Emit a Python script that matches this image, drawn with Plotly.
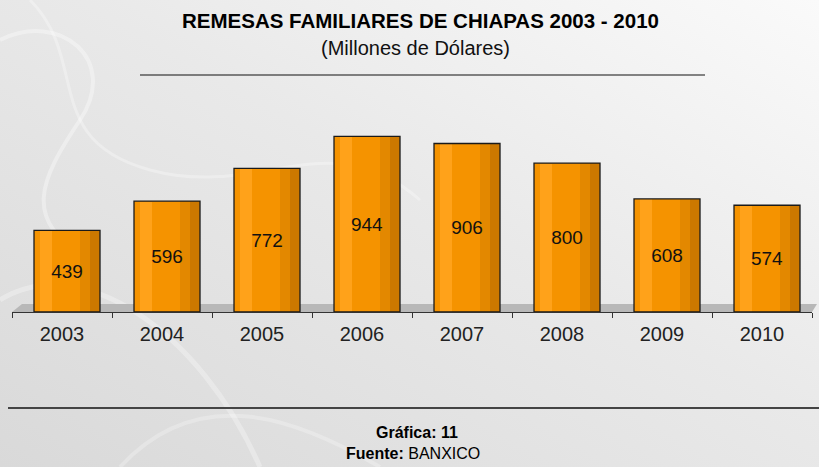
import plotly.graph_objects as go

years = ["2003", "2004", "2005", "2006", "2007", "2008", "2009", "2010"]
values = [439, 596, 772, 944, 906, 800, 608, 574]
labels = [str(v) for v in values]

W, H = 819, 467
L, R, T, B = 12, 7, 126, 155
pw, ph = W - L - R, H - T - B

def px(x):
    return (x - L) / pw

def py(y):
    return (H - B - y) / ph

bg_svg = (
    "data:image/svg+xml;utf8,"
    "<svg xmlns='http://www.w3.org/2000/svg' width='819' height='467'>"
    "<defs><linearGradient id='g' x1='0' y1='1' x2='1' y2='0'>"
    "<stop offset='0' stop-color='%23D9D9D9'/>"
    "<stop offset='0.55' stop-color='%23E9E9E9'/>"
    "<stop offset='1' stop-color='%23FAFAFA'/>"
    "</linearGradient></defs>"
    "<rect width='819' height='467' fill='url(%23g)'/>"
    "<path d='M0,40 C60,10 120,60 80,120 S20,220 90,260' stroke='white' stroke-opacity='0.35' stroke-width='4' fill='none'/>"
    "<path d='M30,0 C90,60 40,140 150,170 S330,120 420,200' stroke='white' stroke-opacity='0.3' stroke-width='3' fill='none'/>"
    "<path d='M0,300 C80,250 200,330 260,467' stroke='white' stroke-opacity='0.3' stroke-width='5' fill='none'/>"
    "<path d='M120,467 C200,380 300,420 380,467' stroke='white' stroke-opacity='0.25' stroke-width='4' fill='none'/>"
    "</svg>"
)

fig = go.Figure()

bw = 0.66
off = -0.28
# base fill
fig.add_trace(go.Bar(x=years, y=values, width=bw, offset=off,
                     marker=dict(color="#F59300", line=dict(width=0)),
                     hoverinfo="skip", showlegend=False))
# light left strip
fig.add_trace(go.Bar(x=years, y=values, width=0.12, offset=off + 0.06,
                     marker=dict(color="#FFA21A", line=dict(width=0)),
                     hoverinfo="skip", showlegend=False))
# darker right strips
fig.add_trace(go.Bar(x=years, y=values, width=0.2, offset=off + bw - 0.2,
                     marker=dict(color="#E38800", line=dict(width=0)),
                     hoverinfo="skip", showlegend=False))
fig.add_trace(go.Bar(x=years, y=values, width=0.1, offset=off + bw - 0.1,
                     marker=dict(color="#CC7800", line=dict(width=0)),
                     hoverinfo="skip", showlegend=False))
# outline + labels
fig.add_trace(go.Bar(x=years, y=values, width=bw, offset=off,
                     marker=dict(color="rgba(0,0,0,0)", line=dict(width=1.3, color="#1a1a1a")),
                     text=labels, textposition="inside", insidetextanchor="middle",
                     textfont=dict(size=19, color="#111111", family="Liberation Sans, Arial"),
                     hoverinfo="skip", showlegend=False))

fig.update_layout(
    barmode="overlay",
    width=W, height=H,
    margin=dict(l=L, r=R, t=T, b=B),
    paper_bgcolor="#E6E6E6",
    plot_bgcolor="rgba(0,0,0,0)",
    showlegend=False,
    images=[dict(source=bg_svg, xref="paper", yref="paper",
                 x=px(0), y=py(0), sizex=W / pw, sizey=H / ph,
                 xanchor="left", yanchor="top", sizing="stretch", layer="below")],
    xaxis=dict(type="category", showline=True, linecolor="#333333", linewidth=1,
               ticks="outside", tickson="boundaries", ticklen=5, tickcolor="#333333",
               showgrid=False, tickfont=dict(size=20, color="#222222", family="Liberation Sans, Arial"),
               ticklabelstandoff=4),
    yaxis=dict(range=[0, 1000], visible=False, showgrid=False),
    shapes=[
        # floor
        dict(type="path", xref="paper", yref="paper", layer="below",
             path=f"M {px(12)},{py(312)} L {px(22)},{py(304)} L {px(817)},{py(304)} L {px(812)},{py(312)} Z",
             fillcolor="#B8B8B8", line=dict(width=0)),
        # title underline
        dict(type="line", xref="paper", yref="paper",
             x0=px(140), x1=px(705), y0=py(75), y1=py(75), line=dict(color="#111111", width=1.2)),
        # bottom separator
        dict(type="line", xref="paper", yref="paper",
             x0=px(8), x1=px(819), y0=py(408), y1=py(408), line=dict(color="#444444", width=2)),
    ],
    annotations=[
        dict(text="<b>REMESAS FAMILIARES DE CHIAPAS 2003 - 2010</b>", xref="paper", yref="paper",
             x=px(420), y=py(20), showarrow=False, xanchor="center", yanchor="middle",
             font=dict(size=20.5, color="#000000", family="Liberation Sans, Arial")),
        dict(text="(Millones de Dólares)", xref="paper", yref="paper",
             x=px(415), y=py(48), showarrow=False, xanchor="center", yanchor="middle",
             font=dict(size=20, color="#111111", family="Liberation Sans, Arial")),
        dict(text="<b>Gráfica: 11</b>", xref="paper", yref="paper",
             x=px(417), y=py(432), showarrow=False, xanchor="center", yanchor="middle",
             font=dict(size=16, color="#000000", family="Liberation Sans, Arial")),
        dict(text="<b>Fuente:</b> BANXICO", xref="paper", yref="paper",
             x=px(413), y=py(453), showarrow=False, xanchor="center", yanchor="middle",
             font=dict(size=16, color="#000000", family="Liberation Sans, Arial")),
    ],
)

fig.write_html("out.html", config={"displayModeBar": False},
               post_script="document.body.style.margin='0';document.body.style.overflow='hidden';")
